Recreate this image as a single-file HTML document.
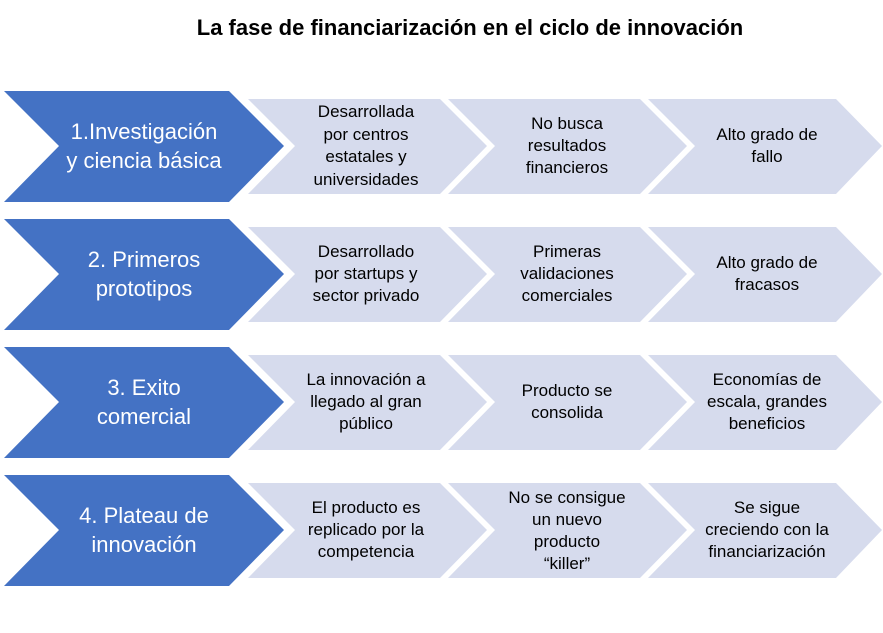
<!DOCTYPE html>
<html><head><meta charset="utf-8"><style>
body{margin:0;width:883px;height:633px;background:#fff;overflow:hidden;font-family:"Liberation Sans",Arial,sans-serif}
svg{position:absolute;left:0;top:0}
</style></head><body>
<svg width="883" height="633" xmlns="http://www.w3.org/2000/svg" font-family="Liberation Sans, Arial, sans-serif">
<text x="470" y="35" text-anchor="middle" font-size="22" font-weight="bold" fill="#000">La fase de financiarización en el ciclo de innovación</text>
<g id="rows"></g>
<!-- Row 1 -->
<g transform="translate(0,91)">
<polygon points="4,0 229,0 284,55 229,111 4,111 59,55" fill="#4472c4"/>
<polygon points="248,8 440,8 487,55 440,103 248,103 295,55" fill="#d6dbed"/>
<polygon points="448,8 640,8 687,55 640,103 448,103 495,55" fill="#d6dbed"/>
<polygon points="648,8 836,8 882,55 836,103 648,103 695,55" fill="#d6dbed"/>
<g fill="#fff" font-size="22" text-anchor="middle"><text x="144" y="48">1.Investigación</text><text x="144" y="77">y ciencia básica</text></g>
<g fill="#000" font-size="17" text-anchor="middle">
<text x="366" y="26">Desarrollada</text><text x="366" y="49">por centros</text><text x="366" y="71">estatales y</text><text x="366" y="94">universidades</text>
<text x="567" y="38">No busca</text><text x="567" y="60">resultados</text><text x="567" y="82">financieros</text>
<text x="767" y="49">Alto grado de</text><text x="767" y="71">fallo</text>
</g></g>
<!-- Row 2 -->
<g transform="translate(0,219)">
<polygon points="4,0 229,0 284,55 229,111 4,111 59,55" fill="#4472c4"/>
<polygon points="248,8 440,8 487,55 440,103 248,103 295,55" fill="#d6dbed"/>
<polygon points="448,8 640,8 687,55 640,103 448,103 495,55" fill="#d6dbed"/>
<polygon points="648,8 836,8 882,55 836,103 648,103 695,55" fill="#d6dbed"/>
<g fill="#fff" font-size="22" text-anchor="middle"><text x="144" y="48">2. Primeros</text><text x="144" y="77">prototipos</text></g>
<g fill="#000" font-size="17" text-anchor="middle">
<text x="366" y="38">Desarrollado</text><text x="366" y="60">por startups y</text><text x="366" y="82">sector privado</text>
<text x="567" y="38">Primeras</text><text x="567" y="60">validaciones</text><text x="567" y="82">comerciales</text>
<text x="767" y="49">Alto grado de</text><text x="767" y="71">fracasos</text>
</g></g>
<!-- Row 3 -->
<g transform="translate(0,347)">
<polygon points="4,0 229,0 284,55 229,111 4,111 59,55" fill="#4472c4"/>
<polygon points="248,8 440,8 487,55 440,103 248,103 295,55" fill="#d6dbed"/>
<polygon points="448,8 640,8 687,55 640,103 448,103 495,55" fill="#d6dbed"/>
<polygon points="648,8 836,8 882,55 836,103 648,103 695,55" fill="#d6dbed"/>
<g fill="#fff" font-size="22" text-anchor="middle"><text x="144" y="48">3. Exito</text><text x="144" y="77">comercial</text></g>
<g fill="#000" font-size="17" text-anchor="middle">
<text x="366" y="38">La innovación a</text><text x="366" y="60">llegado al gran</text><text x="366" y="82">público</text>
<text x="567" y="49">Producto se</text><text x="567" y="71">consolida</text>
<text x="767" y="38">Economías de</text><text x="767" y="60">escala, grandes</text><text x="767" y="82">beneficios</text>
</g></g>
<!-- Row 4 -->
<g transform="translate(0,475)">
<polygon points="4,0 229,0 284,55 229,111 4,111 59,55" fill="#4472c4"/>
<polygon points="248,8 440,8 487,55 440,103 248,103 295,55" fill="#d6dbed"/>
<polygon points="448,8 640,8 687,55 640,103 448,103 495,55" fill="#d6dbed"/>
<polygon points="648,8 836,8 882,55 836,103 648,103 695,55" fill="#d6dbed"/>
<g fill="#fff" font-size="22" text-anchor="middle"><text x="144" y="48">4. Plateau de</text><text x="144" y="77">innovación</text></g>
<g fill="#000" font-size="17" text-anchor="middle">
<text x="366" y="38">El producto es</text><text x="366" y="60">replicado por la</text><text x="366" y="82">competencia</text>
<text x="567" y="28">No se consigue</text><text x="567" y="50">un nuevo</text><text x="567" y="72">producto</text><text x="567" y="94">“killer”</text>
<text x="767" y="38">Se sigue</text><text x="767" y="60">creciendo con la</text><text x="767" y="82">financiarización</text>
</g></g>
</svg>
</body></html>
